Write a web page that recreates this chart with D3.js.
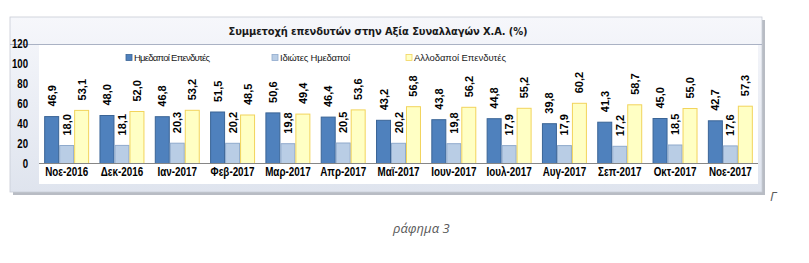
<!DOCTYPE html>
<html>
<head>
<meta charset="utf-8">
<script src="https://cdn.jsdelivr.net/npm/d3@7"></script>
<style>
  body { margin: 0; background: #fff; }
  svg { display: block; }
</style>
</head>
<body>
<div id="chart"></div>
<script>
var categories = ["Νοε-2016", "Δεκ-2016", "Ιαν-2017", "Φεβ-2017", "Μαρ-2017", "Απρ-2017", "Μαϊ-2017",
                  "Ιουν-2017", "Ιουλ-2017", "Αυγ-2017", "Σεπ-2017", "Οκτ-2017", "Νοε-2017"];
var seriesNames = ["Ημεδαποί Επενδυτές", "Ιδιώτες Ημεδαποί", "Αλλοδαποί Επενδυτές"];
var domestic = [46.9, 48.0, 46.8, 51.5, 50.6, 46.4, 43.2, 43.8, 44.8, 39.8, 41.3, 45.0, 42.7];
var privateDom = [18.0, 18.1, 20.3, 20.2, 19.8, 20.5, 20.2, 19.8, 17.9, 17.9, 17.2, 18.5, 17.6];
var foreign = [53.1, 52.0, 53.2, 48.5, 49.4, 53.6, 56.8, 56.2, 55.2, 60.2, 58.7, 55.0, 57.3];
var yTicks = [0, 20, 40, 60, 80, 100, 120];

var fills = ["#4f81bd", "#b9cde5", "#ffffc4"];
var strokes = ["#3a6496", "#8faacc", "#f2d45c"];

var series = [domestic, privateDom, foreign];

// squeeze text horizontally, like the narrow font of the original
function narrow(sel, k) {
  sel.each(function() {
    var w = this.getComputedTextLength();
    d3.select(this).attr("textLength", w * k).attr("lengthAdjust", "spacingAndGlyphs");
  });
}

var svg = d3.select("#chart").append("svg")
    .attr("width", 809)
    .attr("height", 263);

var defs = svg.append("defs");
var grad = defs.append("linearGradient").attr("id", "frameGrad")
    .attr("x1", 0).attr("y1", 0).attr("x2", 0).attr("y2", 1);
grad.append("stop").attr("offset", "0%").attr("stop-color", "#f6f7fb");
grad.append("stop").attr("offset", "100%").attr("stop-color", "#dfe4ee");

// frame shadow + frame
svg.append("rect").attr("x", 13).attr("y", 20).attr("width", 752).attr("height", 175)
  .attr("fill", "#b8bcc4");
svg.append("rect").attr("x", 10).attr("y", 17).attr("width", 752).attr("height", 175)
  .attr("fill", "url(#frameGrad)")
  .attr("stroke", "#c8ccd6").attr("stroke-width", 0.8);

// plot area
var plot = {left: 39, right: 758, top: 45, bottom: 184};
svg.append("rect")
  .attr("x", plot.left).attr("y", plot.top)
  .attr("width", plot.right - plot.left).attr("height", plot.bottom - plot.top)
  .attr("fill", "#fff");
svg.append("line")
  .attr("x1", 10).attr("x2", 762).attr("y1", 44.5).attr("y2", 44.5)
  .attr("stroke", "#aab2c4").attr("stroke-width", 1);

//title
svg.append("text")
  .attr("x", 378).attr("y", 35)
  .attr("text-anchor", "middle")
  .text("Συμμετοχή επενδυτών στην Αξία Συναλλαγών Χ.Α. (%)")
  .style("font-family", "'DejaVu Sans Condensed', 'DejaVu Sans', sans-serif")
  .style("font-size", "11px")
  .style("font-weight", "bold")
  .style("fill", "#1a1a1a")
  .attr("textLength", 299);

var x0 = d3.scaleBand()
    .domain(categories)
    .range([plot.left, plot.right])
    .paddingInner(0.187)
    .paddingOuter(0.0935);

var x1 = d3.scaleBand()
    .domain(d3.range(series.length))
    .range([0, x0.bandwidth()]);

var y = d3.scaleLinear()
    .domain([0, 120])
    .range([163.5, 43.5]);

// y axis labels
svg.append("g")
  .attr("transform", "translate(30,0)")
  .call(d3.axisLeft(y).tickValues(yTicks).tickSize(0).tickPadding(2))
  .call(function(g) { g.select(".domain").remove(); })
  .selectAll("text")
  .style("font-family", "'Liberation Sans', sans-serif")
  .style("font-size", "12px")
  .style("font-weight", "bold")
  .style("fill", "#000")
  .call(narrow, 0.8);

// bars
var groups = svg.selectAll(".grp")
    .data(categories)
  .enter().append("g")
    .attr("class", "grp")
    .attr("transform", function(d) { return "translate(" + x0(d) + ",0)"; });

series.forEach(function(vals, si) {
  groups.append("rect")
    .attr("x", x1(si) + 0.5)
    .attr("width", x1.bandwidth() - 1)
    .attr("y", function(d, i) { return y(vals[i]); })
    .attr("height", function(d, i) { return y(0) - y(vals[i]); })
    .attr("fill", fills[si])
    .attr("stroke", strokes[si])
    .attr("stroke-width", 1);

  groups.append("text")
    .attr("transform", function(d, i) {
      return "translate(" + (x1(si) + x1.bandwidth() / 2 + 4) + "," + (y(vals[i]) - 10) + ") rotate(-90)";
    })
    .text(function(d, i) { return d3.format(".1f")(vals[i]).replace(".", ","); })
    .style("font-family", "'Liberation Sans', sans-serif")
    .style("font-size", "11px")
    .style("font-weight", "bold")
    .style("fill", "#000");
});

// x axis
svg.append("g")
  .attr("transform", "translate(0," + y(0) + ")")
  .call(d3.axisBottom(x0).tickSize(0).tickPadding(4))
  .call(function(g) {
    g.select(".domain").attr("stroke", "#868686").attr("d", "M" + plot.left + ",0H" + plot.right);
  })
  .selectAll("text")
  .style("font-family", "'Liberation Sans', sans-serif")
  .style("font-size", "12px")
  .style("font-weight", "bold")
  .style("fill", "#000")
  .call(narrow, 0.82);

// legend
var legendX = [127, 273, 407];
var legendW = [76, 70, 92];
var legend = svg.selectAll(".leg")
    .data(seriesNames)
  .enter().append("g")
    .attr("class", "leg")
    .attr("transform", function(d, i) { return "translate(" + legendX[i] + ",58)"; });
legend.append("rect")
  .attr("x", -1).attr("y", -3.5).attr("width", 6).attr("height", 6)
  .attr("fill", function(d, i) { return fills[i]; })
  .attr("stroke", function(d, i) { return strokes[i]; })
  .attr("stroke-width", 0.8);
legend.append("text")
  .attr("x", 7).attr("y", 3)
  .text(function(d) { return d; })
  .attr("textLength", function(d, i) { return legendW[i]; })
  .style("font-family", "'Liberation Sans', sans-serif")
  .style("font-size", "9.5px")
  .style("fill", "#1a1a1a");

// caption
svg.append("text")
  .attr("x", 770).attr("y", 201)
  .text("Γ")
  .style("font-family", "'Open Sans', sans-serif")
  .style("font-style", "italic")
  .style("font-size", "13px")
  .style("fill", "#595959");
svg.append("text")
  .attr("x", 393).attr("y", 233)
  .text("ράφημα 3")
  .style("font-family", "'Open Sans', sans-serif")
  .style("font-style", "italic")
  .style("font-size", "13px")
  .style("fill", "#595959");
</script>
</body>
</html>
